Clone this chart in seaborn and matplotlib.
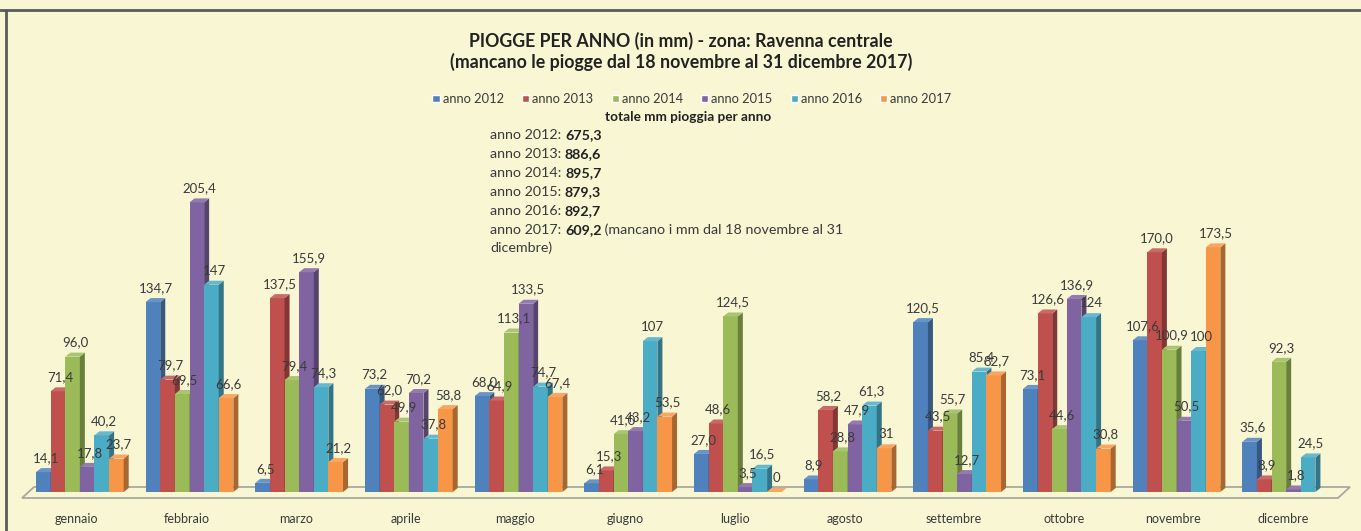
import numpy as np
import pandas as pd
import matplotlib
matplotlib.use("Agg")
import matplotlib.pyplot as plt
from matplotlib.patches import Polygon
from matplotlib.lines import Line2D
from matplotlib.colors import to_rgb
import seaborn as sns

# ---------------- data ----------------
mesi = ['gennaio', 'febbraio', 'marzo', 'aprile', 'maggio', 'giugno',
        'luglio', 'agosto', 'settembre', 'ottobre', 'novembre', 'dicembre']
anni = ['anno 2012', 'anno 2013', 'anno 2014', 'anno 2015', 'anno 2016', 'anno 2017']

v2012 = [14.1, 134.7, 6.5, 73.2, 68.0, 6.1, 27.0, 8.9, 120.5, 73.1, 107.6, 35.6]
v2013 = [71.4, 79.7, 137.5, 62.0, 64.9, 15.3, 48.6, 58.2, 43.5, 126.6, 170.0, 8.9]
v2014 = [96.0, 69.5, 79.4, 49.9, 113.1, 41.0, 124.5, 28.8, 55.7, 44.6, 100.9, 92.3]
v2015 = [17.8, 205.4, 155.9, 70.2, 133.5, 43.2, 3.5, 47.9, 12.7, 136.9, 50.5, 1.8]
v2016 = [40.2, 147, 74.3, 37.8, 74.7, 107, 16.5, 61.3, 85.4, 124, 100, 24.5]
v2017 = [23.7, 66.6, 21.2, 58.8, 67.4, 53.5, 0, 31, 82.7, 30.8, 173.5, None]

totali = ['675,3', '886,6', '895,7', '879,3', '892,7', '609,2']

colori = ['#4F81BD', '#C0504D', '#9BBB59', '#8064A2', '#4BACC6', '#F79646']

titolo1 = 'PIOGGE PER ANNO (in mm) - zona: Ravenna centrale'
titolo2 = '(mancano le piogge dal 18 novembre al 31 dicembre 2017)'


def fmt(v):
    if isinstance(v, int):
        return str(v)
    return f'{v:.1f}'.replace('.', ',')


serie = [v2012, v2013, v2014, v2015, v2016, v2017]
rows = []
for anno, vals in zip(anni, serie):
    for m, v in zip(mesi, vals):
        if v is None:
            continue
        rows.append({'mese': m, 'anno': anno, 'mm': float(v), 'label': fmt(v)})
df = pd.DataFrame(rows)

# ---------------- style ----------------
BG = '#F8F6D3'
sns.set_theme(style='white')
plt.rcParams['font.family'] = ['Lato', 'DejaVu Sans']
TXT = '#3a3a3a'

W, H = 1361, 531
fig = plt.figure(figsize=(W / 100, H / 100), dpi=100, facecolor=BG)

px_per_mm = 1.41
base_px = 492
ymax = 230
ax = fig.add_axes([22 / W, (H - base_px) / H, 1316 / W, ymax * px_per_mm / H])
ax.set_facecolor('none')

sns.barplot(data=df, x='mese', y='mm', hue='anno', order=mesi, hue_order=anni,
            palette=colori, saturation=1, width=0.8, errorbar=None, ax=ax,
            legend=True)

ax.set_xlim(-0.5, 11.5)
ax.set_ylim(0, ymax)
for s in ax.spines.values():
    s.set_visible(False)
ax.set_yticks([])
ax.set_xlabel('')
ax.set_ylabel('')
ax.tick_params(axis='x', length=0, pad=15, labelsize=9, labelcolor=TXT)
ax.grid(False)

# 3D-like faces
dx = 5 / 109.6
dy = 4 / px_per_mm
shift = 3 / 109.6


def shade(c, f):
    r, g, b = to_rgb(c)
    return (r * f, g * f, b * f)


def tint(c, f):
    r, g, b = to_rgb(c)
    return (r + (1 - r) * f, g + (1 - g) * f, b + (1 - b) * f)


for hi, (cont, anno) in enumerate(zip(ax.containers, anni)):
    sub = df[df['anno'] == anno].set_index('mese')
    col = colori[hi]
    for bar in cont:
        h = bar.get_height()
        if np.isnan(h):
            continue
        bar.set_x(bar.get_x() + shift)
        x0 = bar.get_x()
        w = bar.get_width()
        z = 2 + hi * 0.1
        bar.set_zorder(z)
        bar.set_edgecolor('none')
        side = Polygon([(x0 + w, 0), (x0 + w + dx, dy), (x0 + w + dx, h + dy), (x0 + w, h)],
                       closed=True, facecolor=shade(col, 0.68), edgecolor='none', zorder=z + 0.05)
        top = Polygon([(x0, h), (x0 + w, h), (x0 + w + dx, h + dy), (x0 + dx, h + dy)],
                      closed=True, facecolor=tint(col, 0.15), edgecolor='none', zorder=z + 0.06)
        ax.add_patch(side)
        ax.add_patch(top)
        mi = int(round(x0 + w / 2 - shift))
        lab = sub.loc[mesi[mi], 'label']
        ax.annotate(lab, xy=(x0 + w / 2 + dx / 2, h + dy), xytext=(0, 3),
                    textcoords='offset points', ha='center', va='bottom',
                    fontsize=9.5, color=TXT, zorder=10)

# floor
floor = Polygon([(-0.5, -6 / px_per_mm), (11.5, -6 / px_per_mm),
                 (11.5 + 12 / 109.6, 5 / px_per_mm), (-0.5 + 12 / 109.6, 5 / px_per_mm)],
                closed=True, facecolor='none', edgecolor='#a9a9a0', lw=1.3,
                zorder=1, clip_on=False)
ax.add_patch(floor)

# legend
leg = ax.legend(loc='center', bbox_to_anchor=(692 / W, 1 - 99 / H),
                bbox_transform=fig.transFigure, ncol=6, frameon=False,
                fontsize=9.3, handlelength=0.55, handleheight=0.55,
                handletextpad=0.25, columnspacing=1.4)
for t in leg.get_texts():
    t.set_color(TXT)

# titles
fig.text(681 / W, 1 - 41 / H, titolo1, ha='center', va='center',
         fontsize=12.8, fontweight='bold', color='#222222')
fig.text(681 / W, 1 - 62 / H, titolo2, ha='center', va='center',
         fontsize=12.8, fontweight='bold', color='#222222')

# totals block
fig.text(688 / W, 1 - 117 / H, 'totale mm pioggia per anno', ha='center', va='center',
         fontsize=9.8, fontweight='bold', color='#222222')
ys = [135, 154, 173, 192, 211, 230]
FS = 10.3
for anno, tot, y in zip(anni, totali, ys):
    t1 = fig.text(490 / W, 1 - y / H, anno + ': ', ha='left', va='center',
                  fontsize=FS, color=TXT)
    ann = ax.annotate(tot, xy=(1, 0.5), xycoords=t1, ha='left', va='center',
                      fontsize=FS, fontweight='bold', color='#222222',
                      annotation_clip=False)
    if anno == 'anno 2017':
        ax.annotate(' (mancano i mm dal 18 novembre al 31', xy=(1, 0.5), xycoords=ann,
                    ha='left', va='center', fontsize=FS, color=TXT,
                    annotation_clip=False)
        fig.text(490 / W, 1 - 248 / H, 'dicembre)', ha='left', va='center',
                 fontsize=FS, color=TXT)

# border lines (top and left)
fig.add_artist(Line2D([0, 1], [1 - 9.5 / H, 1 - 9.5 / H], color='#5a5a5a', lw=2))
fig.add_artist(Line2D([6 / W, 6 / W], [0, 1 - 9.5 / H], color='#5a5a5a', lw=2))

fig.savefig('out.png', dpi=100, facecolor=BG)
